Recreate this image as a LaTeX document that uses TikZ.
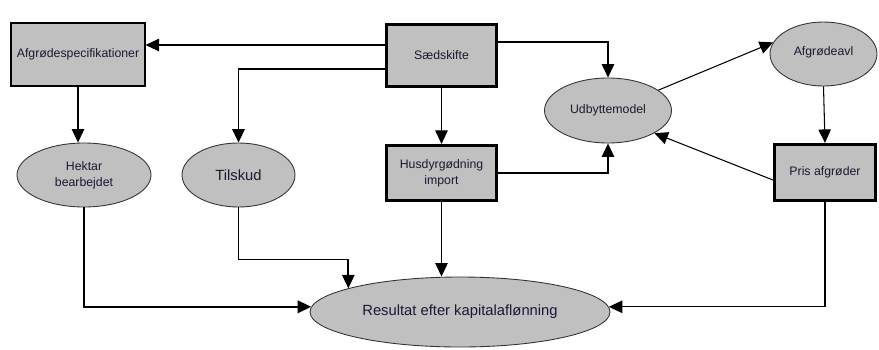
\documentclass[tikz,border=0pt]{standalone}
\usepackage{fontspec}
\setmainfont{Liberation Sans}
\usetikzlibrary{arrows.meta}
\usetikzlibrary{shapes.geometric}
\definecolor{boxgray}{RGB}{192,192,192}
\definecolor{tekst}{RGB}{25,25,50}
\tikzset{>={Triangle[length=2.7mm,width=2.5mm]}}
\tikzset{
	% bokse
	tyndboks/.style={rectangle,draw=black,line width=0.6pt,fill=boxgray,inner sep=0pt,
		font=\fontsize{7}{9}\selectfont,text=tekst,align=center},
	tykboks/.style={tyndboks,line width=1.8pt},
	% ellipser
	oval/.style={ellipse,draw=black!80,line width=0.5pt,fill=boxgray,inner sep=0pt,
		font=\fontsize{7}{9}\selectfont,text=tekst,align=center},
	storfont/.style={font=\fontsize{8.4}{10}\selectfont},
	% pile
	pil/.style={->,line width=0.6pt},
	tykpil/.style={->,line width=1pt},
}

\begin{document}
\begin{tikzpicture}
	\useasboundingbox (0,0) rectangle (17.58,-6.98);
	
	\node[tyndboks,minimum width=2.68cm,minimum height=1.26cm] (afgspec) at (1.56,-1.09) {\raisebox{-1.2mm}{Afgrødespecifikationer}};
	\node[tykboks,minimum width=2.2cm,minimum height=1.24cm] (saed) at (8.83,-1.11) {\raisebox{-0.8mm}{Sædskifte}};
	\node[tykboks,minimum width=2.2cm,minimum height=1.1cm] (husdyr) at (8.83,-3.46) {Husdyrgødning\\import};
	\node[tykboks,minimum width=2.02cm,minimum height=1.12cm] (pris) at (16.5,-3.45) {\raisebox{-1.2mm}{Pris afgrøder}};
	
	\node[oval,minimum width=2.54cm,minimum height=1.3cm] (udb) at (12.16,-2.21) {Udbyttemodel};
	\node[oval,minimum width=2.14cm,minimum height=1.28cm] (afgavl) at (16.47,-1.08) {\raisebox{1mm}{Afgrødeavl}};
	\node[oval,minimum width=2.68cm,minimum height=1.28cm] (hektar) at (1.68,-3.5) {Hektar\\bearbejdet};
	\node[oval,storfont,minimum width=2.26cm,minimum height=1.28cm] (tilskud) at (4.77,-3.5) {Tilskud};
	\node[oval,storfont,minimum width=6cm,minimum height=1.4cm] (resultat) at (9.2,-6.24) {Resultat efter kapitalaflønning};
	
	% fra saedskifte
	\coordinate (saedv1) at ([yshift=2.1mm]saed.west);
	\coordinate (saedv2) at ([yshift=-2.7mm]saed.west);
	\coordinate (saedh) at ([yshift=2.7mm]saed.east);
	\draw[pil] (saedv1) -- (saedv1 -| afgspec.east);
	\draw[tykpil] (saedv2) -| (tilskud.north);
	\draw[pil] (saedh) -| (udb.north);
	\draw[pil] (saed.south) -- (husdyr.north);
	
	% udbyttemodel
	\draw[pil] (husdyr.east) -| (udb.south);
	\draw[pil] (udb.22) -- (afgavl.167);
	\draw[pil] (afgavl.south) -- (pris.north);
	\draw[pil] ([yshift=-1.5mm]pris.west) -- (udb.-26);
	
	\draw[pil] (afgspec.south) -- (afgspec.south |- hektar.north);
	
	% til resultat
	\draw[tykpil] (hektar.south) |- (resultat.178);
	\draw[tykpil] (tilskud.south) -- ++(0,-1.04) -| (resultat.168);
	\draw[pil] (husdyr.south) -- (husdyr.south |- resultat.north);
	\draw[pil] (pris.south) |- (resultat.2);
	
\end{tikzpicture}
\end{document}
